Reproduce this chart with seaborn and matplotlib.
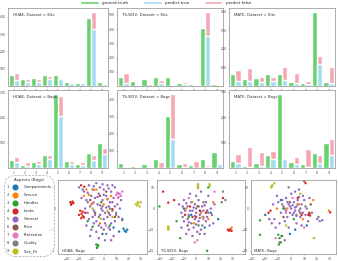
import numpy as np
import pandas as pd
import matplotlib
matplotlib.use("Agg")
import matplotlib.pyplot as plt
import matplotlib.text as mtext
from matplotlib.lines import Line2D
from matplotlib.patches import Patch
from matplotlib.legend_handler import HandlerBase
import seaborn as sns

sns.set_style("ticks")
plt.rcParams['font.family'] = ['DejaVu Sans']

GREEN = "#66d36e"
BLUE = "#a6dcef"
PINK = "#f4a7b2"

CATS = ["1", "2", "3", "4", "5", "6", "7", "8", "9"]
MODELS = ["HOAE", "TS-W2V", "MATE"]

# Kits dataset: ground truth / predict true / predict false (stacked on top)
hoae_kits_gt = [66, 40, 45, 62, 64, 25, 19, 396, 23]
hoae_kits_tp = [34, 25, 25, 43, 38, 15, 15, 330, 11]
hoae_kits_fp = [41, 18, 13, 14, 11, 2, 2, 100, 3]

tsw2v_kits_gt = [63, 35, 47, 63, 63, 21, 14, 407, 16]
tsw2v_kits_tp = [21, 3, 3, 23, 5, 12, 3, 349, 4]
tsw2v_kits_fp = [72, 4, 9, 17, 11, 18, 1, 174, 3]

mate_kits_gt = [63, 37, 44, 63, 63, 21, 16, 400, 21]
mate_kits_tp = [28, 28, 21, 26, 35, 14, 10, 119, 14]
mate_kits_fp = [60, 70, 25, 21, 67, 56, 16, 41, 91]

# Bags dataset
hoae_bags_gt = [33, 12, 22, 53, 296, 26, 17, 59, 99]
hoae_bags_tp = [24, 7, 16, 36, 207, 17, 12, 30, 57]
hoae_bags_fp = [19, 15, 12, 17, 79, 12, 13, 23, 22]

tsw2v_bags_gt = [29, 12, 24, 53, 302, 24, 16, 53, 96]
tsw2v_bags_tp = [4, 1, 1, 1, 171, 4, 1, 4, 25]
tsw2v_bags_fp = [10, 3, 7, 36, 264, 25, 42, 12, 4]

mate_bags_gt = [29, 9, 19, 52, 293, 24, 16, 59, 99]
mate_bags_tp = [19, 3, 8, 36, 35, 16, 4, 19, 53]
mate_bags_fp = [37, 80, 57, 33, 5, 29, 72, 34, 63]

ASPECTS = ["Compartments", "Service", "Handles", "Looks", "General",
           "Price", "Protection", "Quality", "Size_Fit"]

# t-SNE points (aspect, x, y)
hoae_pts = [
    (5, -20, 10), (5, -16, 8), (5, -12, 11), (5, -9, 9), (5, -6, 12), (5, -3, 10), (5, 0, 9),
    (5, 3, 11), (5, 6, 8), (5, 9, 10), (5, 12, 7), (5, -18, 5), (5, -14, 4), (5, -10, 6),
    (5, -7, 5), (5, -4, 7), (5, -1, 4), (5, 2, 6), (5, 5, 3), (5, 8, 5), (5, 11, 2), (5, 14, 4),
    (5, -15, 0), (5, -11, 1), (5, -8, -1), (5, -5, 2), (5, -2, 0), (5, 1, -2), (5, 4, 1),
    (5, 7, -1), (5, 10, -3), (5, 13, 0), (5, -12, -5), (5, -9, -4), (5, -6, -6), (5, -3, -3),
    (5, 0, -5), (5, 3, -4), (5, 6, -7), (5, 9, -6), (5, -10, -10), (5, -6, -11), (5, -2, -9),
    (5, 2, -12), (5, 5, -10), (5, -14, -8), (5, -4, -14), (5, 1, -15), (5, 8, -13),
    (5, -17, 9), (5, -13, 7.5), (5, -8, 10.5), (5, -1, 11.5), (5, 4, 9.5), (5, 7, 11),
    (5, -5, 5.5), (5, 0, 6.5), (5, 3, 4.5), (5, 7, 3), (5, -9, 2.5), (5, -3, 1.5),
    (5, 2, 0.5), (5, 9, 1), (5, -13, -2), (5, -7, -3), (5, -1, -1), (5, 5, -3), (5, 12, -4),
    (5, -8, -7), (5, -4, -8), (5, 1, -7), (5, 4, -9), (5, -11, -13), (5, 6, -15),
    (2, -16, 6), (2, -12, 6.5), (2, -8, 8.8), (2, 3, 4.3), (2, -10, 2), (2, -6, 9), (2, 0, 2),
    (2, 6, 6), (2, -3, -7), (2, -14, 9),
    (4, -27, 3), (4, -26, 2.3), (4, -25.2, 3.3), (4, -26.5, 1.8), (4, -24.5, 2.6), (4, -19, -1),
    (4, -18, -2.5), (4, -17, -3.6), (4, -16, -4.2), (4, -15, -2), (4, -18.2, -4.6),
    (4, -18.3, 11), (4, -15.7, 10.3), (4, 7, -0.3), (4, -20, -3), (4, -17, -1.5),
    (3, -6, -17), (3, -5, -18), (3, -4.5, -17.3), (3, -5.5, -18.6), (3, -9, -8.6), (3, -13, -6),
    (3, 5, -8), (3, -2, 3),
    (1, 12.4, -10.9), (1, 16, -9.5), (1, 17, -10.5), (1, 18, -11), (1, 19, -10), (1, 15, -5),
    (1, 8, -9), (1, -1, -12),
    (6, -11, 4), (6, -3, 6), (6, 4, -2), (6, 9, -4), (6, -7, -2), (6, 2, 8),
    (7, 10, 6.5), (7, 11, 7.5), (7, 12, 5.5), (7, 13, 7), (7, 14, 6), (7, 15, 8), (7, 11.5, 5),
    (7, -8, 3), (7, 2, -8),
    (8, -13, 3), (8, -1, 1), (8, 5, 0), (8, 10, -2), (8, -4, -4), (8, 15, -5.5), (8, 0, -10),
    (9, 26, 2), (9, 27, 1.5), (9, 28, 2.5), (9, 29, 1), (9, 30, 3), (9, 27.5, 3), (9, -2.3, -4.8),
    (9, -9, 0), (9, 3, -1), (9, 7, -4),
]

tsw2v_pts = [
    (5, -14, 2), (5, -10, 4), (5, -7, 1), (5, -4, 3), (5, -1, 2), (5, 2, 4), (5, 5, 1), (5, 8, 3),
    (5, 12, 0), (5, 15, 2), (5, -12, -2), (5, -9, -1), (5, -6, -3), (5, -3, -1), (5, 0, -2),
    (5, 3, -3), (5, 6, -1), (5, 9, -4), (5, 13, -3), (5, -10, -6), (5, -7, -5), (5, -4, -7),
    (5, -1, -5), (5, 2, -6), (5, 5, -8), (5, 8, -6), (5, 11, -8), (5, -6, -10), (5, -2, -9),
    (5, 1, -11), (5, 4, -10), (5, -12, -9), (5, 7, -12), (5, -3, -13), (5, 0, 6), (5, -5, 7),
    (5, 4, 8), (5, 10, 6), (5, -8, -12), (5, 14, -7),
    (5, -2, 0.5), (5, 1, 1), (5, 4, -1.5), (5, -5, -1), (5, -8, 2.5), (5, 7, 1.5), (5, -1, -3.5),
    (5, 3, -4.5), (5, 6, -4), (5, -6, -6.5), (5, 0, -7.5), (5, 10, -2), (5, -11, 1),
    (4, -27, 8), (4, -22.8, 2.8), (4, -18, 4), (4, -5, 1), (4, 3, -1), (4, 0, -4), (4, 26, -10),
    (4, 27, -10.5), (4, 28, -9.8), (4, 29, -10.6), (4, -9, -3), (4, 8, -2), (4, 22, 5),
    (9, -22.8, -8.5), (9, -22.7, -9.2), (9, -22.9, -10), (9, -22.5, -9.6), (9, 1.6, 11.5),
    (9, 1.5, 10.8), (9, 1.7, 10.2), (9, 1.4, 9.6), (9, 11, 11.5), (9, 11.2, 10.8), (9, 5, -4),
    (9, -3, 3),
    (3, -30, 1), (3, -13, -14), (3, 9, -20), (3, -6, -4), (3, 2, -8), (3, 10, 10), (3, -16, -6),
    (2, -8, 0), (2, 4, -2), (2, 10, -5), (2, 29, -9), (2, -2, -7), (2, 14, 3),
    (1, -4, -3), (1, 7, -9), (1, 12, -2), (1, -10, 0), (1, 18, -5),
    (7, 1, -15), (7, -1, -16), (7, 6, -5), (7, -6, 5), (7, 15, 8),
    (6, -3, -4), (6, 2, 1), (6, 9, -1), (6, -7, -8),
    (8, 0, 0), (8, -11, -4), (8, 6, 3), (8, 3, -12), (8, 22, 8), (8, 24, 4), (8, 21, 3),
]

mate_pts = [
    (5, -2, 2), (5, 0, 0), (5, 2, 3), (5, 4, 1), (5, 6, -1), (5, 8, 2), (5, -1, -2), (5, 1, -3),
    (5, 3, -1), (5, 5, 4), (5, -4, 5), (5, -6, 1), (5, -3, -4), (5, 7, -4), (5, 9, -2), (5, 10, 4),
    (5, -8, -2), (5, -10, 3), (5, 0, 7), (5, 3, 8), (5, 12, 0), (5, -5, -6), (5, -13, -5),
    (5, -15, -7), (5, -12, -9), (5, -9, -7), (5, 4, -7), (5, 8, -8), (5, 13, -6), (5, -17, -5),
    (5, -7, -13), (5, -5, -15), (5, -9, -16), (5, 16, -2), (5, -14, 2), (5, -11, 6), (5, 6, 9),
    (5, 14, 5), (5, 20, -5), (5, 22, -6), (5, 24, -5.5), (5, -2, -9),
    (5, -1, 1), (5, 1, 1.5), (5, 3, 0.5), (5, 5, 2), (5, 7, 0), (5, -3, 3), (5, 2, -2),
    (5, 4, -3.5), (5, -5, 0), (5, 6, 5.5), (5, -7, 4), (5, 9, 6), (5, 11, -3), (5, -4, -1),
    (4, 10, 13), (4, 11, 12), (4, 13.8, -2), (4, 14, -2.6), (4, 14.5, -3.3), (4, 13.2, -3),
    (4, -17.5, -2), (4, -16, -1), (4, 5, 5), (4, 30, -1.8), (4, 8, -3),
    (9, -15, 10.5), (9, -14.5, 11), (9, -15.5, 10), (9, -13, 12), (9, -4, -8), (9, 17.5, -14),
    (9, 7, 7),
    (3, -10, -12.4), (3, -9, -14), (3, -8, -16), (3, -7.5, -13), (3, -9.5, -17), (3, -24, -5.6),
    (3, -24, -12.4), (3, -6, 0), (3, 2, -5),
    (2, -3, 0), (2, 6, 2), (2, 9, -5), (2, -11, 0), (2, 29, -1), (2, 17, 4),
    (1, -8, 4), (1, 3, -10), (1, 12, -8), (1, -1, -12), (1, -20, -3),
    (7, 1, 5), (7, -4, -2), (7, 10, -9), (7, -12, -14),
    (6, -1, 3), (6, 7, -2), (6, -6, -4), (6, 15, 2),
    (8, 4, -3), (8, -7, 2), (8, 11, 1), (8, -2, 10), (8, 21, -4),
]

W, H = 338, 261
fig = plt.figure(figsize=(W / 100, H / 100), dpi=100)


def px_axes(l, t, r, b):
    return fig.add_axes([l / W, 1 - b / H, (r - l) / W, (b - t) / H])


def style_ax(ax):
    for s in ax.spines.values():
        s.set_color("#a0a0a0")
        s.set_linewidth(0.6)
    ax.tick_params(labelsize=2.2, length=1, width=0.4, pad=0.8,
                   colors="#888888", labelcolor="#444444")
    ax.set_xlabel("")
    ax.set_ylabel("")


def draw_bars(ax, gt, tp, fp, label):
    df = pd.DataFrame({
        "aspect": CATS * 2,
        "kind": ["gt"] * 9 + ["pred"] * 9,
        "total": gt + [t + f for t, f in zip(tp, fp)],
        "true": gt + tp,
    })
    sns.barplot(data=df, x="aspect", y="total", hue="kind", hue_order=["gt", "pred"],
                palette={"gt": GREEN, "pred": PINK}, saturation=1, errorbar=None,
                width=0.9, gap=0, legend=False, ax=ax)
    sns.barplot(data=df, x="aspect", y="true", hue="kind", hue_order=["gt", "pred"],
                palette={"gt": GREEN, "pred": BLUE}, saturation=1, errorbar=None,
                width=0.9, gap=0, legend=False, ax=ax)
    ax.set_xlim(-0.55, 8.55)
    ax.set_yticks([t for t in [100, 200, 300, 400, 500] if t < ax.get_ylim()[1]])
    ax.text(0.05, 0.94, label, transform=ax.transAxes, fontsize=2.8, va="top", color="#333333")
    style_ax(ax)


def draw_scatter(ax, pts, label):
    df = pd.DataFrame(pts, columns=["aspect", "x", "y"])
    pal = dict(zip(range(1, 10), sns.color_palette("tab10", 9)))
    sns.scatterplot(data=df, x="x", y="y", hue="aspect", palette=pal, s=3, linewidth=0,
                    legend=False, ax=ax)
    ax.set_xticks([-30, -20, -10, 0, 10, 20, 30])
    ax.set_yticks([-20, -10, 0, 10])
    ax.set_ylim(-21.5, 13.5)
    ax.text(0.04, 0.02, label, transform=ax.transAxes, fontsize=2.8, va="bottom", color="#333333")
    style_ax(ax)


bar_x = [(8, 108), (117, 223), (229, 335)]
kits = [(hoae_kits_gt, hoae_kits_tp, hoae_kits_fp),
        (tsw2v_kits_gt, tsw2v_kits_tp, tsw2v_kits_fp),
        (mate_kits_gt, mate_kits_tp, mate_kits_fp)]
bags = [(hoae_bags_gt, hoae_bags_tp, hoae_bags_fp),
        (tsw2v_bags_gt, tsw2v_bags_tp, tsw2v_bags_fp),
        (mate_bags_gt, mate_bags_tp, mate_bags_fp)]

for (l, r), m, d in zip(bar_x, MODELS, kits):
    ax = px_axes(l, 8, r, 86)
    draw_bars(ax, *d, f"{m}, Dataset = Kits")
for (l, r), m, d in zip(bar_x, MODELS, bags):
    ax = px_axes(l, 90, r, 168)
    draw_bars(ax, *d, f"{m}, Dataset = Bags")

sc_x = [(58, 147, (-37, 35)), (157, 245, (-32, 40)), (251, 336, (-31, 34.5))]
for (l, r, xl), m, pts in zip(sc_x, MODELS, [hoae_pts, tsw2v_pts, mate_pts]):
    ax = px_axes(l, 180, r, 254)
    draw_scatter(ax, pts, f"{m}, Bags")
    ax.set_xlim(*xl)

# top legend
fig.legend(handles=[Patch(facecolor=GREEN, label="ground truth"),
                    Patch(facecolor=BLUE, label="predict true"),
                    Patch(facecolor=PINK, label="predict false")],
           loc="upper center", bbox_to_anchor=(0.49, 1.012), ncol=3, frameon=False,
           fontsize=3, handlelength=4.5, handleheight=0.9, columnspacing=3.5,
           handletextpad=0.8)


class NumDot:
    def __init__(self, num, color):
        self.num = num
        self.color = color


class NumDotHandler(HandlerBase):
    def create_artists(self, legend, orig_handle, xdescent, ydescent, width, height,
                       fontsize, trans):
        yc = -ydescent + height / 2
        txt = mtext.Text(-xdescent, yc, orig_handle.num, fontsize=fontsize, va="center",
                         ha="left", color="#333333", transform=trans)
        dot = Line2D([-xdescent + width * 0.72], [yc], marker="o", markersize=3.4,
                     color=orig_handle.color, linestyle="none", transform=trans)
        return [txt, dot]


tab = sns.color_palette("tab10", 9)
handles = [NumDot(str(i + 1), tab[i]) for i in range(9)]
leg = fig.legend(handles, ASPECTS, handler_map={NumDot: NumDotHandler()},
                 title="Aspects (Bags)", loc="upper left", bbox_to_anchor=(2 / W, 1 - 173 / H),
                 fontsize=2.7, title_fontsize=2.9, labelspacing=1.05, handlelength=3.0,
                 handletextpad=1.5, borderpad=0.7, fancybox=True, frameon=True)
frame = leg.get_frame()
frame.set_linestyle((0, (3, 2)))
frame.set_edgecolor("#888888")
frame.set_linewidth(0.5)
frame.set_boxstyle("round,pad=0,rounding_size=3")

fig.savefig("out.png", dpi=100)
